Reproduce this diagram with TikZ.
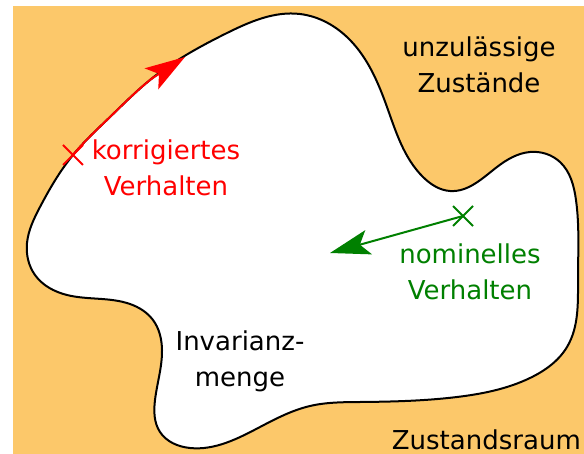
\documentclass[tikz,border=0pt]{standalone}
\usepackage{fontspec}
\setmainfont{DejaVu Sans}
\usetikzlibrary{arrows.meta,shapes.misc,hobby}
\definecolor{bgorange}{RGB}{252,200,106}
\definecolor{myred}{RGB}{255,0,0}
\definecolor{mygreen}{RGB}{0,128,0}
\newcommand{\blobpath}{(300,14) .. (350,40) .. (387,107) .. (423,177) .. (450,191) .. (497,167) ..
 (530,152) .. (560,162) .. (576,200) .. (578,280) .. (567,347) .. (530,378) ..
 (457,397) .. (360,402) .. (310,406) .. (260,427) .. (190,448) .. (160,432) ..
 (155,400) .. (162,350) .. (153,320) .. (130,304) .. (67,295) .. (35,275) ..
 (27,243) .. (40,207) .. (73,155) .. (110,117) .. (150,80) .. (227,33)}
\begin{document}
\begin{tikzpicture}[x=1pt,y=-1pt,
  lbl/.style={font=\fontsize{26}{36.5}\selectfont, align=center, inner sep=0pt},
  xmark/.style={cross out, draw, minimum size=18pt, inner sep=0pt, line width=2pt},
  bigtip/.style={-{Stealth[length=40pt,width=25pt,inset=9pt]}, line width=2pt},
  blob/.style={line width=2pt, use Hobby shortcut, closed=true}]
\useasboundingbox (0,0) rectangle (584,454);
\fill[bgorange] (13,6) rectangle (584,454);
\draw[blob, fill=white] \blobpath;
% labels
\node[lbl, anchor=base] (unz) at (479,93) {unzulässige\\Zustände};
\node[lbl, anchor=base, text=myred] (kor) at (166,196) {korrigiertes\\Verhalten};
\node[lbl, anchor=base, text=mygreen] (nom) at (470,300) {nominelles\\Verhalten};
\node[lbl, anchor=base] (inv) at (240,387) {Invarianz-\\menge};
\node[lbl, anchor=base east] (zr) at (581,449) {Zustandsraum};
% red corrected behaviour, running along the boundary
\node[xmark, draw=myred] (rx) at (73,155) {};
\begin{scope}
  \clip (rx.center) rectangle (153,35);
  \draw[blob, myred] \blobpath;
\end{scope}
\coordinate (rback) at (151.5,78.8);
\coordinate (rtip) at (185,57);
\draw[bigtip, myred] (rback) -- (rtip);
% green nominal behaviour
\node[xmark, draw=mygreen] (gx) at (463,216) {};
\coordinate (gtip) at (330,253);
\draw[bigtip, mygreen] (gx.center) -- (gtip);
\end{tikzpicture}
\end{document}
